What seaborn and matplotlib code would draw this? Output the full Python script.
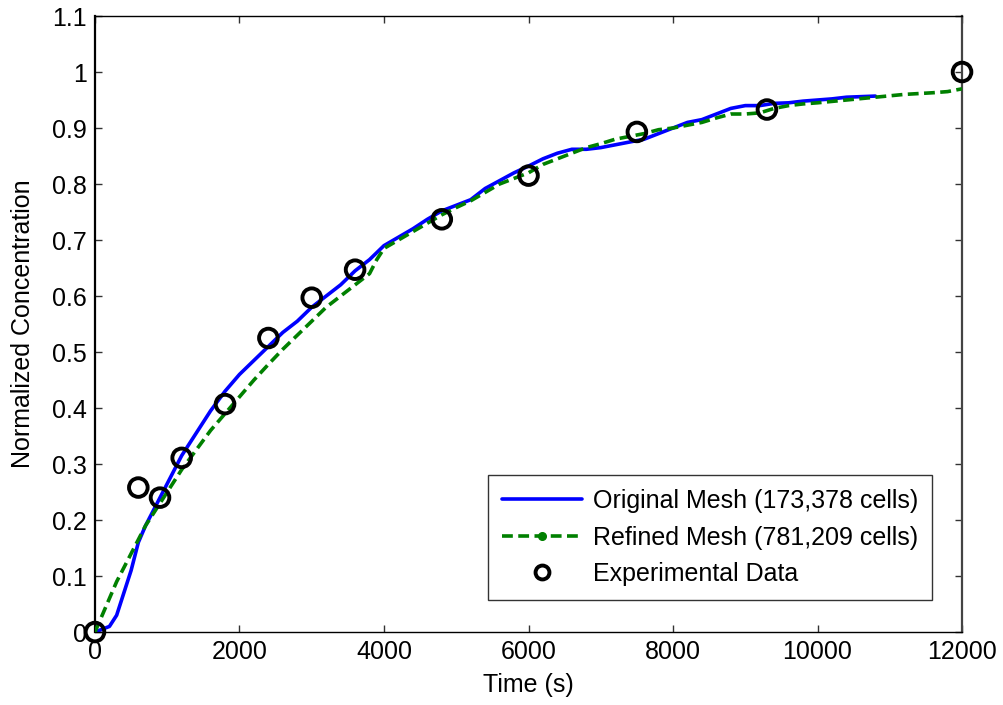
import numpy as np
import pandas as pd
import matplotlib
matplotlib.use("Agg")
import matplotlib.pyplot as plt
from matplotlib.lines import Line2D
import seaborn as sns

# Original mesh (173,378 cells)
orig_t = [0, 200, 300, 400, 500, 600, 700, 800, 900, 1000, 1100, 1200, 1400, 1600,
          1800, 2000, 2200, 2400, 2600, 2800, 3000, 3200, 3400, 3600, 3800, 4000,
          4200, 4400, 4600, 4800, 5000, 5200, 5400, 5600, 5800, 6000, 6200, 6400,
          6600, 6800, 7000, 7200, 7400, 7600, 7800, 8000, 8200, 8400, 8600, 8800,
          9000, 9200, 9400, 9600, 9800, 10000, 10200, 10400, 10800]
orig_c = [0, 0.01, 0.03, 0.07, 0.11, 0.16, 0.19, 0.215, 0.24, 0.265, 0.29, 0.315, 0.355, 0.395,
          0.43, 0.46, 0.485, 0.51, 0.535, 0.555, 0.58, 0.6, 0.62, 0.645, 0.665, 0.69,
          0.705, 0.72, 0.737, 0.752, 0.762, 0.772, 0.792, 0.806, 0.82, 0.832, 0.845, 0.855,
          0.862, 0.862, 0.865, 0.87, 0.875, 0.88, 0.89, 0.9, 0.91, 0.915, 0.925, 0.935,
          0.94, 0.94, 0.944, 0.945, 0.948, 0.95, 0.952, 0.955, 0.957]

# Refined mesh (781,209 cells)
ref_t = [0, 100, 200, 300, 400, 500, 600, 700, 800, 900, 1000, 1200, 1400, 1600,
         1800, 2000, 2200, 2400, 2600, 2800, 3000, 3200, 3400, 3600, 3800, 3900,
         4000, 4200, 4400, 4600, 4800, 5000, 5200, 5400, 5600, 5800, 6000, 6200,
         6400, 6600, 6800, 7000, 7200, 7400, 7600, 7800, 8000, 8200, 8400, 8600,
         8800, 9000, 9200, 9400, 9600, 9800, 10000, 10400, 10800, 11200, 11600,
         11800, 12000]
ref_c = [0, 0.03, 0.06, 0.09, 0.115, 0.14, 0.165, 0.19, 0.21, 0.23, 0.25, 0.29, 0.325, 0.36,
         0.39, 0.42, 0.45, 0.478, 0.505, 0.53, 0.555, 0.58, 0.6, 0.62, 0.64, 0.665,
         0.685, 0.7, 0.715, 0.73, 0.745, 0.758, 0.77, 0.785, 0.8, 0.81, 0.82, 0.835,
         0.845, 0.855, 0.865, 0.872, 0.88, 0.885, 0.89, 0.897, 0.9, 0.905, 0.91, 0.918,
         0.925, 0.925, 0.927, 0.935, 0.94, 0.943, 0.945, 0.95, 0.955, 0.96, 0.963,
         0.965, 0.97]

# Experimental data
exp_t = [0, 600, 900, 1200, 1800, 2400, 3000, 3600, 4800, 6000, 7500, 9300, 12000]
exp_c = [0, 0.258, 0.24, 0.311, 0.407, 0.525, 0.597, 0.647, 0.737, 0.815, 0.893, 0.933, 1.0]

labels = ["Original Mesh (173,378 cells)", "Refined Mesh (781,209 cells)", "Experimental Data"]

sns.set_style("white")
plt.rcParams["font.family"] = ["Liberation Sans", "DejaVu Sans"]
plt.rcParams["text.color"] = "black"
plt.rcParams["axes.labelcolor"] = "black"
plt.rcParams["xtick.color"] = "black"
plt.rcParams["ytick.color"] = "black"

fig = plt.figure(figsize=(10.04, 7.05), dpi=100)
ax = fig.add_axes([0.0946, 0.1035, 0.8636, 0.8738])

df_o = pd.DataFrame({"t": orig_t, "c": orig_c})
df_r = pd.DataFrame({"t": ref_t, "c": ref_c})
df_e = pd.DataFrame({"t": exp_t, "c": exp_c})

sns.lineplot(data=df_o, x="t", y="c", ax=ax, color="#0000ff", linewidth=2.6, zorder=2)
sns.lineplot(data=df_r, x="t", y="c", ax=ax, color="#008000", linewidth=2.6,
             linestyle=(0, (3, 1.5)), zorder=3)
sns.scatterplot(data=df_e, x="t", y="c", ax=ax, s=180, facecolor="none",
                edgecolor="black", linewidth=2.8, zorder=4, clip_on=False)

ax.set_xlim(0, 12000)
ax.set_ylim(0, 1.1)
ax.set_xticks(np.arange(0, 12001, 2000))
ax.set_yticks(np.round(np.arange(0, 1.101, 0.1), 1))
ax.set_yticklabels(["0", "0.1", "0.2", "0.3", "0.4", "0.5", "0.6", "0.7", "0.8", "0.9", "1", "1.1"])
ax.tick_params(direction="in", length=5, width=1, labelsize=18, top=True, right=True,
               bottom=True, left=True, pad=6)
ax.tick_params(colors="black", color="#333333")
for sp in ax.spines.values():
    sp.set_color("black")
    sp.set_linewidth(1.0)
ax.spines["left"].set_linewidth(1.6)
ax.spines["right"].set_linewidth(1.6)
ax.spines["right"].set_color("#444444")

ax.set_xlabel("Time (s)", fontsize=18, labelpad=6)
ax.set_ylabel("Normalized Concentration", fontsize=18, labelpad=12)

handles = [
    Line2D([], [], color="#0000ff", linewidth=2.6),
    Line2D([], [], color="#008000", linewidth=2.6, linestyle=(0, (3, 1.5)),
           marker=".", markersize=11),
    Line2D([], [], color="black", linestyle="none", marker="o", markersize=10,
           markerfacecolor="none", markeredgewidth=2.8),
]
leg = ax.legend(handles, labels, loc="lower right", bbox_to_anchor=(0.9654, 0.052),
                fontsize=18, frameon=True, fancybox=False, edgecolor="black",
                handlelength=3.2, handletextpad=0.45, labelspacing=0.5,
                borderpad=0.55, borderaxespad=0, numpoints=1)
leg.get_frame().set_linewidth(1.0)

fig.savefig("out.png", dpi=100, facecolor="white")
